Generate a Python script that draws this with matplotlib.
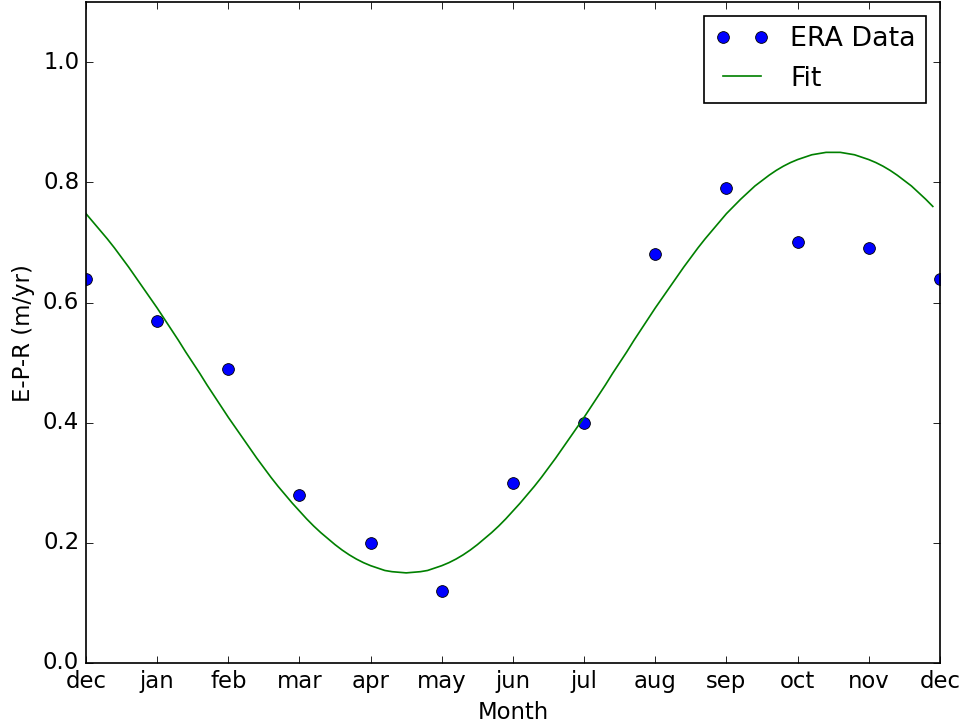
import matplotlib
matplotlib.use('Agg')
import numpy as np
import matplotlib.pyplot as plt

plt.style.use('classic')

# monthly E-P-R values (dec .. dec)
months = ['dec', 'jan', 'feb', 'mar', 'apr', 'may', 'jun',
          'jul', 'aug', 'sep', 'oct', 'nov', 'dec']
era_x = list(range(13))
era_epr = [0.64, 0.57, 0.49, 0.28, 0.20, 0.12, 0.30,
           0.40, 0.68, 0.79, 0.70, 0.69, 0.64]

# fit curve, every 0.1 month from 0 to 11.9
fit_x = np.arange(0, 12, 0.1)
fit_epr = [0.748, 0.734, 0.720, 0.706, 0.691, 0.675, 0.659, 0.642, 0.625, 0.608,
           0.591, 0.573, 0.555, 0.537, 0.518, 0.500, 0.482, 0.463, 0.445, 0.427,
           0.409, 0.392, 0.375, 0.358, 0.341, 0.325, 0.309, 0.294, 0.280, 0.266,
           0.253, 0.240, 0.228, 0.217, 0.207, 0.197, 0.188, 0.180, 0.173, 0.167,
           0.162, 0.158, 0.154, 0.152, 0.151, 0.150, 0.151, 0.152, 0.154, 0.158,
           0.162, 0.167, 0.173, 0.180, 0.188, 0.197, 0.207, 0.217, 0.228, 0.240,
           0.253, 0.266, 0.280, 0.294, 0.309, 0.325, 0.341, 0.358, 0.375, 0.392,
           0.409, 0.427, 0.445, 0.463, 0.482, 0.500, 0.518, 0.537, 0.555, 0.573,
           0.591, 0.608, 0.625, 0.642, 0.659, 0.675, 0.691, 0.706, 0.720, 0.734,
           0.748, 0.760, 0.772, 0.783, 0.794, 0.803, 0.812, 0.820, 0.827, 0.833,
           0.838, 0.842, 0.846, 0.848, 0.850, 0.850, 0.850, 0.848, 0.846, 0.842,
           0.838, 0.833, 0.827, 0.820, 0.812, 0.803, 0.794, 0.783, 0.772, 0.760]

fig = plt.figure(figsize=(8, 728 / 121.0), facecolor='white')
fig.subplots_adjust(left=0.0888, right=0.971, bottom=0.0893, top=0.997)
ax = fig.add_subplot(111)

ax.plot(era_x, era_epr, 'o', color='blue', markersize=7, label='ERA Data')
ax.plot(fit_x, fit_epr, '-', color='green', label='Fit')

ax.set_xlim(0, 12)
ax.set_ylim(0, 1.1)
ax.set_xticks(era_x)
ax.set_xticklabels(months)
ax.set_yticks([0.0, 0.2, 0.4, 0.6, 0.8, 1.0])
ax.tick_params(labelsize=13.5)
ax.set_xlabel('Month', fontsize=13.5)
ax.set_ylabel('E-P-R (m/yr)', fontsize=13.5)
ax.legend(loc='upper right', fontsize=16)

fig.savefig('out.png', dpi=121, facecolor='white')
